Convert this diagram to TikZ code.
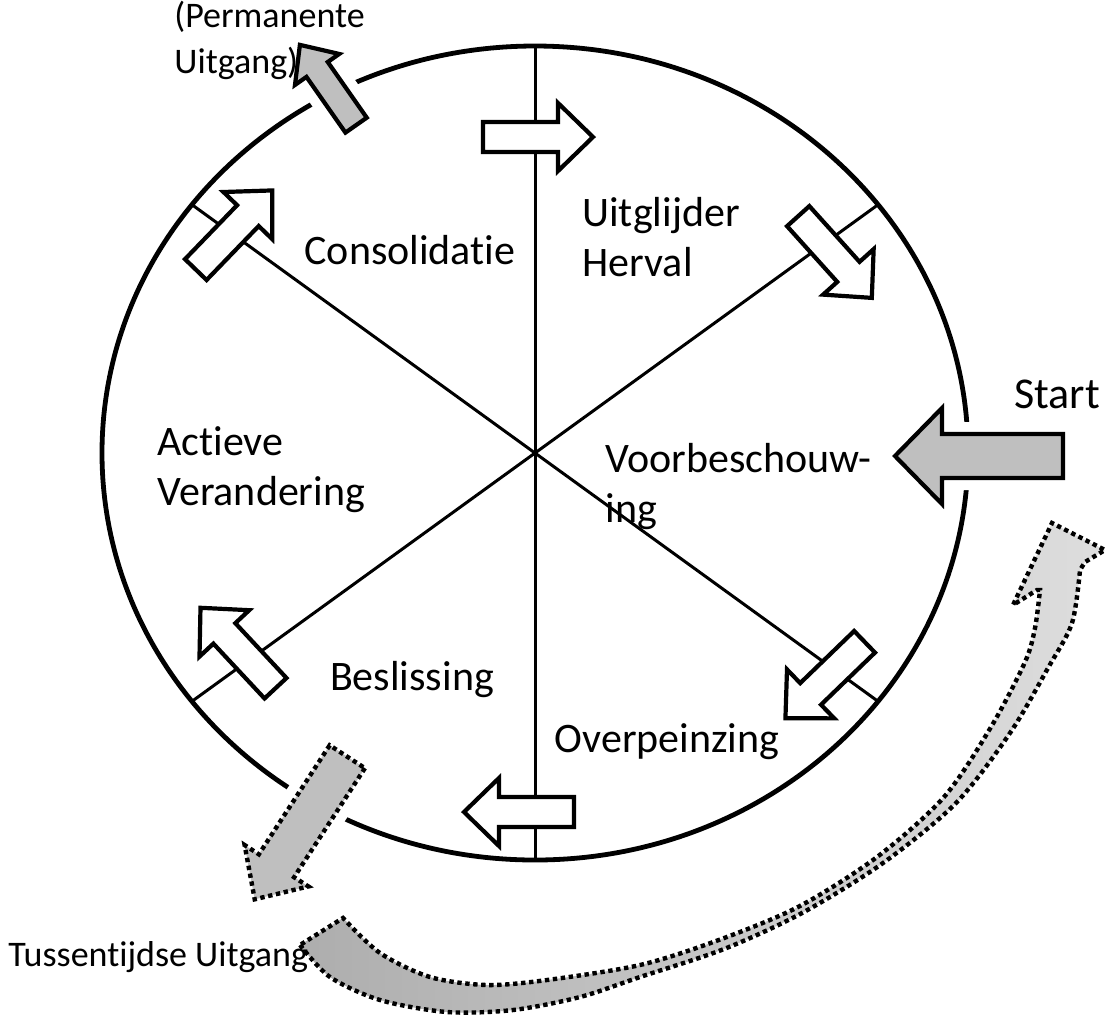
\documentclass[tikz,border=0pt]{standalone}
\usepackage{fontspec}
\setmainfont{Carlito}[Ligatures=CommonOff]

\begin{document}
\begin{tikzpicture}[x=0.5pt, y=-0.5pt,
    hollow/.style={draw, line width=2.1pt, fill=white},
    grayarr/.style={draw, line width=2.1pt, fill=black!25, preaction={draw=white, line width=12pt}},
    dotarr/.style={draw, line width=2.2pt, dash pattern=on 2.2pt off 1.8pt, fill=black!25, preaction={draw=white, line width=12pt, solid}},
    band/.style={draw, line width=2.2pt, dash pattern=on 2.2pt off 1.8pt, left color=black!32, right color=black!13},
    lbl/.style={font=\fontsize{21}{25}\selectfont, inner sep=0pt, align=left},
    small/.style={font=\fontsize{18}{23}\selectfont, inner sep=0pt, align=left}]
  \useasboundingbox (0,0) rectangle (1107,1014);

  % wheel
  \coordinate (o) at (535,453);
  \path (o) +(90:433 and 407) coordinate (n);
  \path (o) +(-90:433 and 407) coordinate (s);
  \path (o) +(-37.6:433 and 407) coordinate (ne);
  \path (o) +(37.6:433 and 407) coordinate (se);
  \path (o) +(142.4:433 and 407) coordinate (sw);
  \path (o) +(-142.4:433 and 407) coordinate (nw);
  \draw [line width=2.4pt] (o) ellipse [x radius=433, y radius=407];
  \foreach \r in {n,ne,se,s,sw,nw}
    \draw [line width=1.5pt] (o) -- (\r);

  % stage arrows
  \foreach \x/\y/\a in {538/137/0, 835/257/-48, 825/680/224, 519/812/180, 238/648/133, 234/230/46}
    \draw [hollow, shift={(\x,\y)}, rotate=\a] (-55,-15) -- (20,-15) -- (20,-34) -- (55,0) -- (20,34) -- (20,15) -- (-55,15) -- cycle;

  % entry and exits
  \draw [grayarr, shift={(979,456)}, rotate=180] (-84,-22) -- (37,-22) -- (37,-48) -- (84,0) -- (37,48) -- (37,22) -- (-84,22) -- cycle;
  \draw [grayarr, shift={(328,85)}, rotate=125] (-49,-13) -- (19,-13) -- (19,-27) -- (49,0) -- (19,27) -- (19,13) -- (-49,13) -- cycle;
  \draw [dotarr, shift={(301,828)}, rotate=237] (-85,-21) -- (45,-21) -- (45,-38) -- (85,0) -- (45,38) -- (45,21) -- (-85,21) -- cycle;

  % way back
  \draw [band] plot [smooth] coordinates {(300,945) (330,977) (380,1000) (447,1012) (513,1010) (580,997) (640,977) (724,949) (802,913) (883,863) (956,803) (1010,733) (1048,668) (1072,623) (1080,570)}
    -- (1085,562) -- (1105,550) -- (1052,523) -- (1013,605) -- (1037,590)
    -- plot [smooth] coordinates {(1040,590) (1035,628) (1025,662) (991,727) (944,797) (877,857) (798,907) (716,941) (640,965) (547,980) (487,985) (430,977) (380,953) (343,918)}
    -- cycle;

  % labels
  \node [lbl] (a) at (410,250) {Consolidatie};
  \node [lbl, anchor=west] (b) at (582,237) {Uitglijder\\Herval};
  \node [lbl, anchor=west] (c) at (157,470) {Actieve\\Verandering};
  \node [lbl, anchor=west] (d) at (605,487) {Voorbeschouw-\\ing};
  \node [lbl] (e) at (412,680) {Beslissing};
  \node [lbl] (f) at (667,742) {Overpeinzing};
  \node [inner sep=0pt, font=\fontsize{22}{26}\selectfont] (g) at (1057,394) {Start};
  \node [small, anchor=west] (h) at (8,957) {Tussentijdse Uitgang};
  \node [small, anchor=west] (i) at (174,40) {(Permanente\\Uitgang)};
\end{tikzpicture}
\end{document}
